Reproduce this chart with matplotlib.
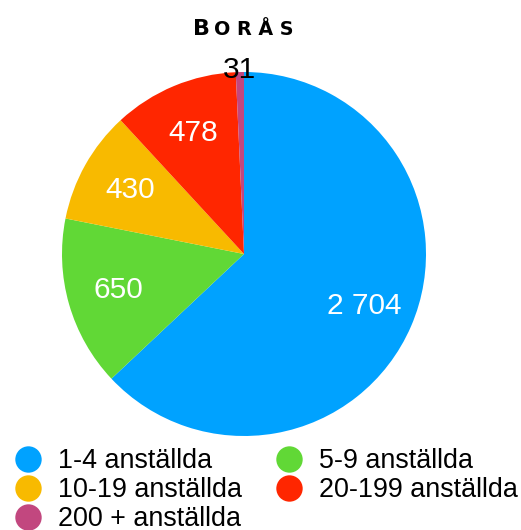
import matplotlib
matplotlib.use("Agg")
import matplotlib.pyplot as plt
from matplotlib.lines import Line2D

categories = ["1-4 anställda", "5-9 anställda", "10-19 anställda", "20-199 anställda", "200 + anställda"]
values = [2704, 650, 430, 478, 31]
colors = ["#00A2FF", "#61D836", "#F8BA00", "#FF2600", "#C2477F"]

W, H = 521, 530
plt.rcParams["font.family"] = ["Liberation Sans", "DejaVu Sans"]

fig = plt.figure(figsize=(W / 100, H / 100), dpi=100)

# pie centre (244, 254) px, radius 182 px
cx, cy, r = 244, 254, 182
ax = fig.add_axes([(cx - r) / W, (H - cy - r) / H, 2 * r / W, 2 * r / H])


def fmt_value(pct):
    v = int(round(pct * sum(values) / 100.0))
    return f"{v:,}".replace(",", " ")


wedges, _, autotexts = ax.pie(
    values, colors=colors, startangle=90, counterclock=False, radius=1.0,
    autopct=fmt_value, pctdistance=0.72,
    wedgeprops={"linewidth": 0},
    textprops={"color": "white", "fontsize": 21.5},
)
# smallest slice: label sits just outside the rim, in black
autotexts[-1].set_color("black")
x, y = autotexts[-1].get_position()
autotexts[-1].set_position((x / 0.72 * 1.01, y / 0.72 * 1.01))
ax.set_xlim(-1, 1)
ax.set_ylim(-1, 1)
ax.set_aspect("equal")

# small-caps style title
t1 = fig.text(193 / W, 1 - 35 / H, "B", fontsize=16, fontweight="bold",
              family="DejaVu Sans", ha="left", va="baseline")
fig.canvas.draw()
bb = t1.get_window_extent()
fig.text((bb.x1 + 4) / W, 1 - 35 / H, "O R Å S", fontsize=13.8, fontweight="bold",
         family="DejaVu Sans", ha="left", va="baseline")

order = [0, 2, 4, 1, 3]
handles = [Line2D([], [], marker="o", linestyle="", markersize=19, color=colors[i],
                  markeredgewidth=0) for i in order]
labels = [categories[i] for i in order]
fig.legend(handles, labels, loc="upper left", bbox_to_anchor=(14 / W, 1 - 448 / H),
           ncol=2, frameon=False, fontsize=19.4, handlelength=1.05, handletextpad=0.6,
           labelspacing=0.12, columnspacing=1.2, borderaxespad=0, borderpad=0)

fig.savefig("out.png", dpi=100)
